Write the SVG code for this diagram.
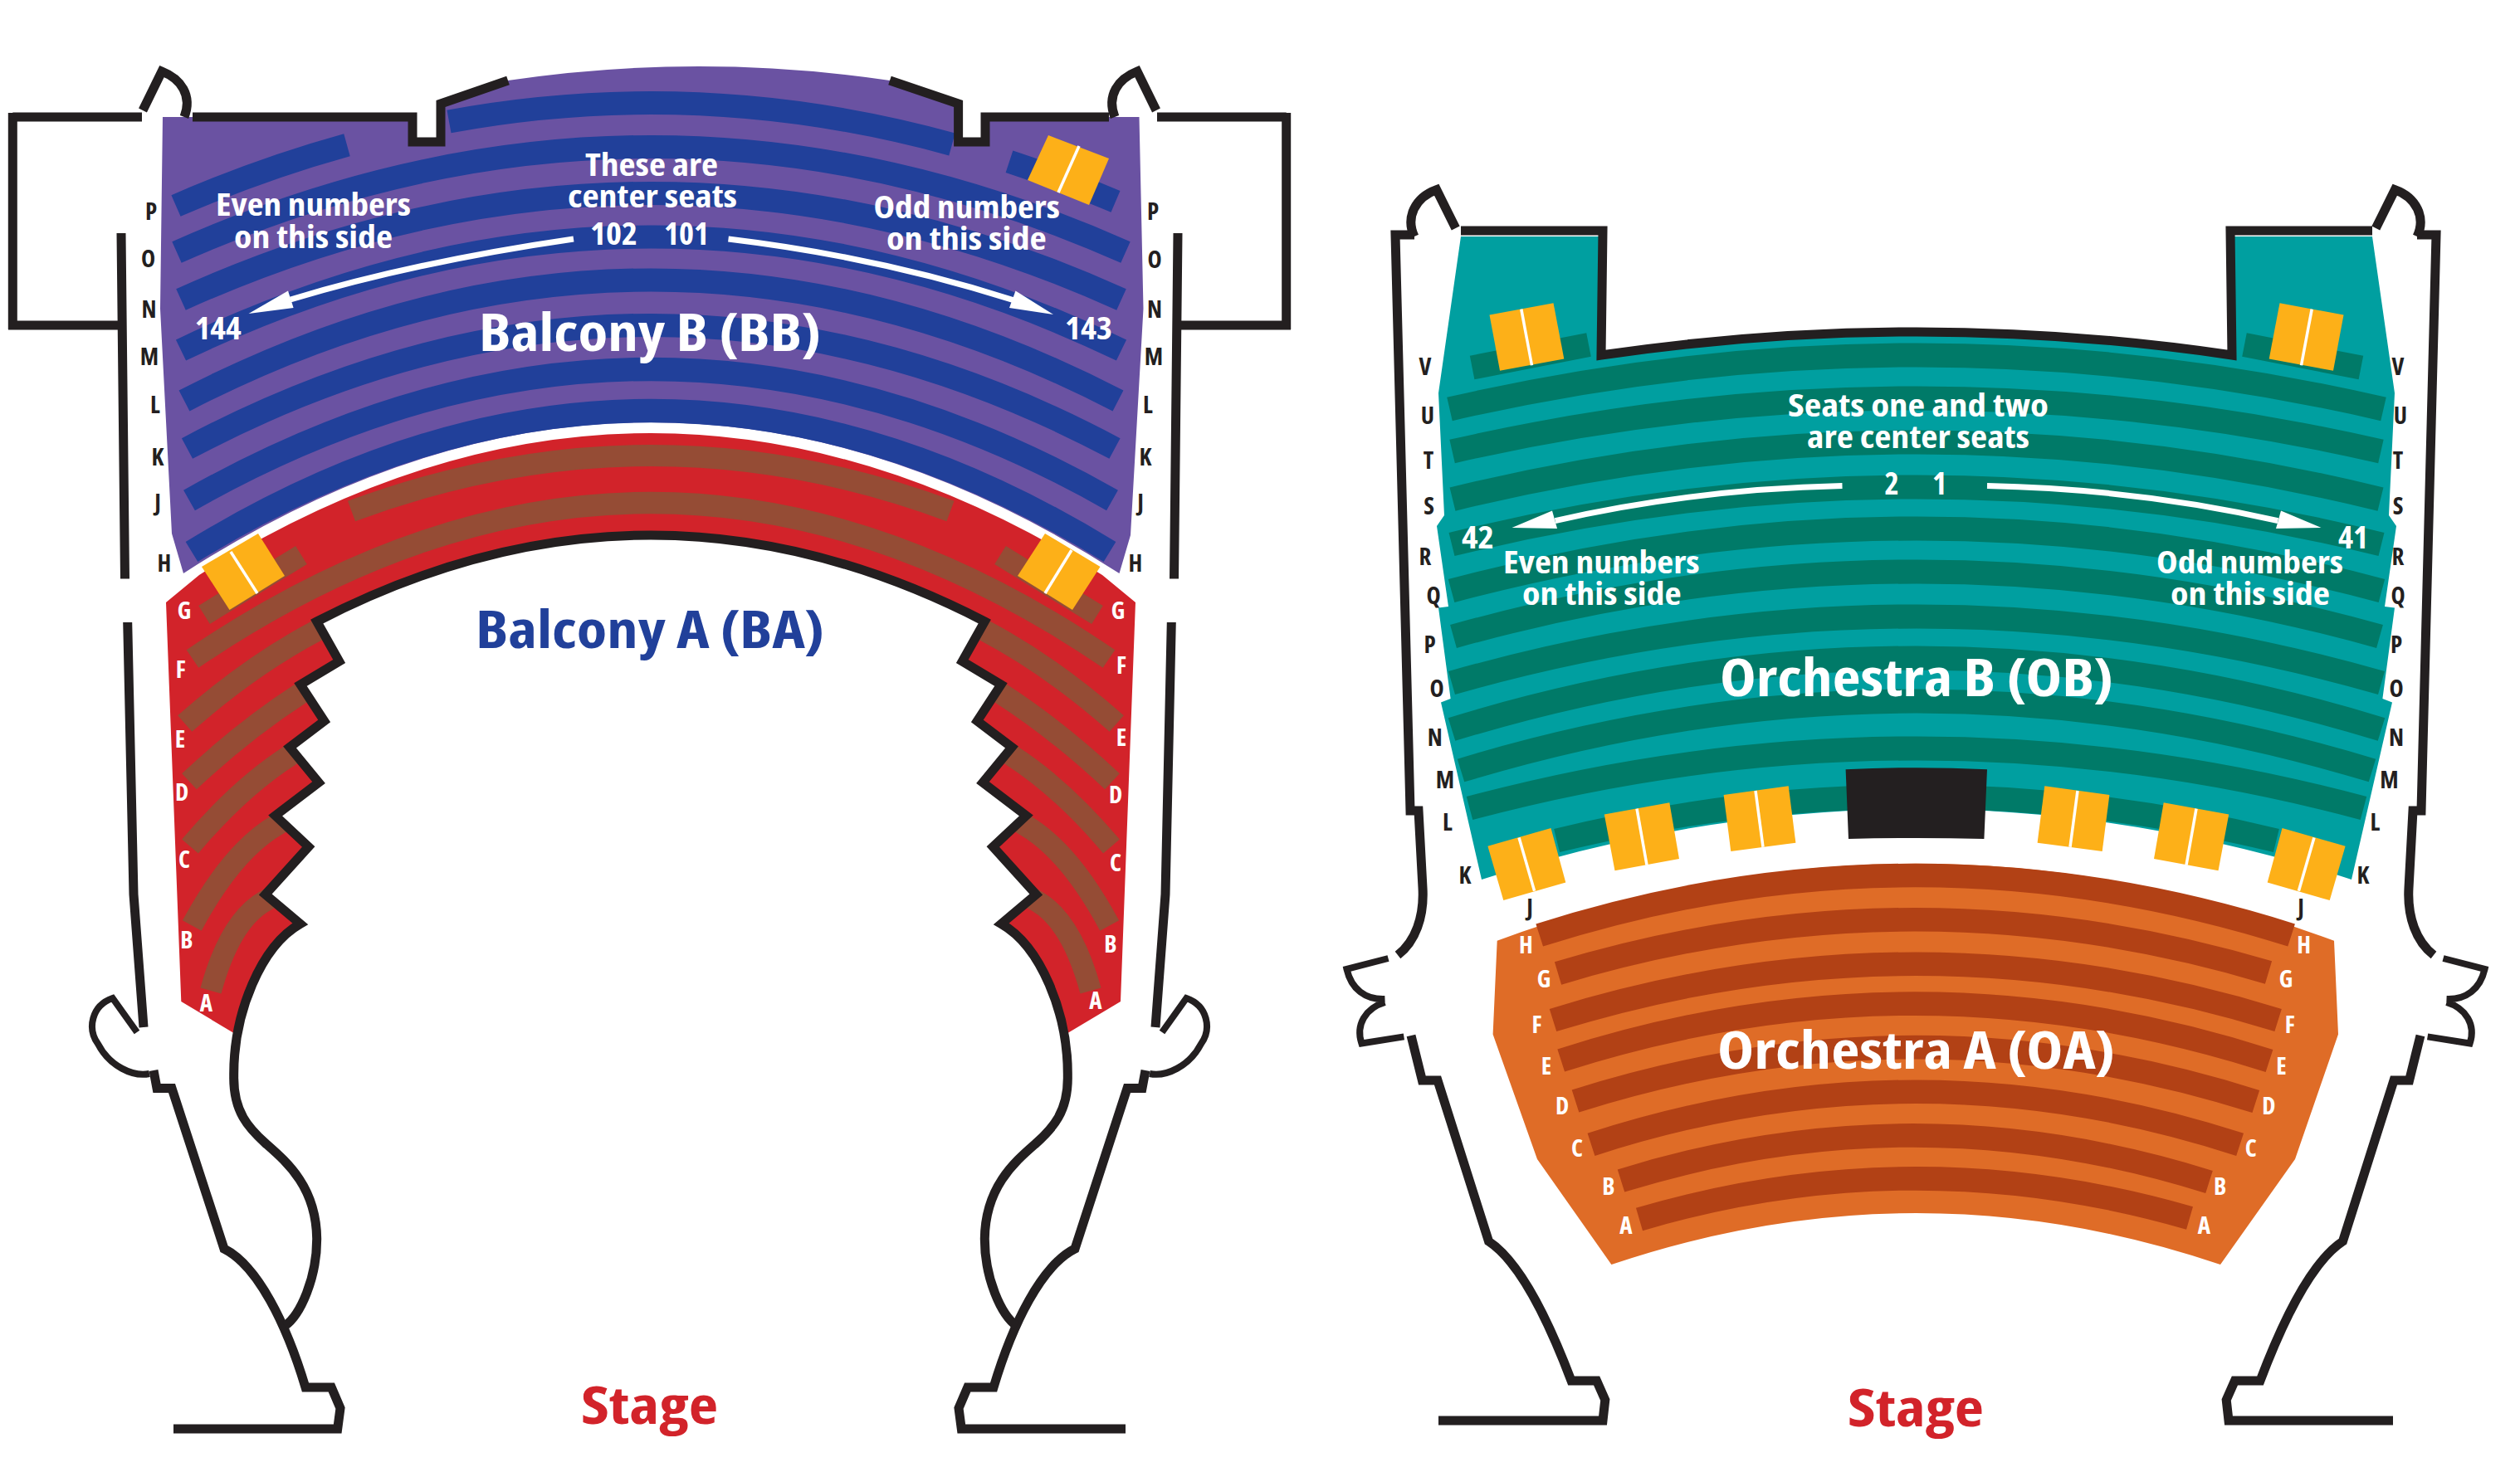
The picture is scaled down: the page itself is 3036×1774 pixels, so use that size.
<svg xmlns="http://www.w3.org/2000/svg" xmlns:xlink="http://www.w3.org/1999/xlink" width="3036" height="1774" viewBox="0 0 3036 1774">
<style>
text{font-family:"Open Sans","Noto Sans","Liberation Sans",sans-serif;font-weight:700;font-stretch:75%}
.w{fill:#fff}.k{fill:#231f20}
.s{font-size:37px;fill:#fff}
.big{font-size:63px;fill:#fff}
.l{font-size:29px;text-anchor:middle;fill:#231f20}
.lw{font-size:29px;text-anchor:middle;fill:#fff}
.wall{fill:none;stroke:#231f20;stroke-width:11;stroke-linejoin:miter}
.thin{fill:none;stroke:#231f20;stroke-width:8}
.rb{fill:none;stroke:#21409a;stroke-width:28}
.rt{fill:none;stroke:#007a68;stroke-width:29}
.ro{fill:none;stroke:#b24115;stroke-width:28.5}
.rr{fill:none;stroke:#954c35;stroke-width:26}
.box{fill:#fdb018}
.div{stroke:#fff;stroke-width:3.5;fill:none}
.arr{fill:none;stroke:#fff;stroke-width:7}
</style>
<defs>
<path id="redShape" d="M200 726L240 693Q784 351 1328 693L1368 726L1350 1207L1283 1247C1273 1190 1243 1138 1206.3 1113.4L1248.3 1078L1196.3 1020.5L1236.3 983L1184 943L1219 900.5L1177.3 869L1206 825L1159.3 797L1186.3 749Q784 541 381.7 749L408.7 797L362 825L390.7 869L349 900.5L384 943L331.7 983L371.7 1020.5L319.7 1078L361.7 1113.4C325 1138 295 1190 285 1247L218.3 1207Z"/>
<clipPath id="redClip"><use href="#redShape"/></clipPath>
<g id="balWall">
<path class="wall" d="M15.3 141H171M15.3 136V397M10 392H146M146 281L150.5 697.5"/>
<path class="wall" d="M172 133L195 86C218 95 232 115 222 141"/>
<path class="wall" d="M153.7 750L161 1078L173 1238"/>
<path class="thin" d="M165 1244L135.7 1203C110 1212 105 1240 118 1258C132 1285 160 1298 180 1294"/>
<path class="wall" d="M185 1290L189 1311.5L207 1311.5L270 1505C310 1525 345 1595 368 1672L399.3 1672L410 1697L406.7 1722L209 1722"/>
</g>
<path id="balInner" class="wall" d="M343 1598C362 1585 381.7 1540 381.7 1493C381 1430 345 1400 320 1378C300 1360 281 1340 281.7 1297C281 1220 315 1140 361.7 1113.4L319.7 1078L371.7 1020.5L331.7 983L384 943L349 900.5L390.7 869L362 825L408.7 797L381.7 749Q583 645 784 645"/>
<g id="orchWall">
<path class="wall" d="M1704 283H1681L1696.5 880L1699 977L1709 977L1714 1070C1716 1105 1705 1135 1684 1151"/>
<path class="wall" d="M1753.7 275L1730.7 228.7C1705 238 1693 262 1704 285"/>
<path class="thin" d="M1672.5 1155L1622.5 1168C1628 1192 1645 1205 1668.5 1204M1668.5 1208C1645 1215 1633 1235 1640.4 1257.4L1691.4 1249.4"/>
<path class="wall" d="M1700 1248L1713.4 1302L1732 1302L1793.5 1496C1830 1520 1865 1590 1893 1664L1923.6 1664L1933.8 1687L1931 1712L1733 1712"/>
</g>
</defs>

<g id="balcony-b">
<path fill="#6a52a2" d="M196 141H497V166H531V125L612 97Q842 63 1072 97L1154.6 125V166H1187V141H1372.5L1377.5 372L1362 645L1348.5 691Q784 327 221 691L207 643L193 372Z"/>
<path class="rb" d="M212 248Q315 203.3 418 174.8"/>
<path class="rb" d="M541 146.4Q844 90.6 1147 173.9"/>
<path class="rb" d="M1216 194.7Q1280 215.7 1344 242.9"/>
<path class="rb" d="M213 304Q784.5 50 1356 304"/>
<path class="rb" d="M218 361Q784.5 105 1351 361"/>
<path class="rb" d="M218 422Q784.5 149 1351 422"/>
<path class="rb" d="M222 483Q784.5 192 1347 483"/>
<path class="rb" d="M225.5 540.5Q784.5 243.5 1343 540.5"/>
<path class="rb" d="M228 603Q784.5 287 1340 603"/>
<path class="rb" d="M231 665Q784.5 325 1337 665"/>
<g id="bb-center-arrows">
<path class="arr" d="M691 288Q499 316 350 361"/><polygon class="w" points="299.5,378 347,350.5 353.6,371"/>
<path class="arr" d="M877.5 288Q1060 310 1222 362"/><polygon class="w" points="1269,379 1223.5,350.5 1216,371"/>
</g>
</g>

<g id="balcony-a">
<use href="#redShape" fill="#d2232a"/>
<g clip-path="url(#redClip)">
<path class="rr" d="M423.5 616Q784 482 1145 616"/>
<path class="rr" d="M232 794Q784 418 1336 794"/>
<path class="rr" d="M246 741L363 669"/><path class="rr" d="M1322 741L1205 669"/>
<path class="rr" d="M222.7 872Q302 802 381.7 760L405 747"/>
<path class="rr" d="M228 941.7Q295 879 361.7 836L388 819"/>
<path class="rr" d="M229 1020Q289 949 350 910L378 892"/>
<path class="rr" d="M231.3 1115.5Q280 1025 334 994L365 976"/>
<path class="rr" d="M254 1194Q277 1110 319 1086L350 1068"/>
<path class="rr" d="M1345.3 872Q1266 802 1186.3 760L1163 747"/>
<path class="rr" d="M1340 941.7Q1273 879 1206.3 836L1180 819"/>
<path class="rr" d="M1339 1020Q1279 949 1218 910L1190 892"/>
<path class="rr" d="M1336.7 1115.5Q1288 1025 1234 994L1203 976"/>
<path class="rr" d="M1314 1194Q1291 1110 1249 1086L1218 1068"/>
</g>
</g>

<g id="balcony-walls">
<use href="#balWall"/><use href="#balWall" transform="translate(1565) scale(-1 1)"/>
<use href="#balInner"/><use href="#balInner" transform="translate(1568) scale(-1 1)"/>
<path class="wall" d="M232 141H497V171H531V125L612 97"/>
<path class="wall" d="M1336 141H1187V171H1154.6V125L1072 97"/>
</g>

<g id="balcony-boxes">
<polygon class="box" points="311,643 343,694 276.5,735 243,683"/><path class="div" d="M278 665L310 715"/>
<polygon class="box" points="1259,643 1325.5,683 1292,735 1226,694"/><path class="div" d="M1291 663L1259 715"/>
<polygon class="box" points="1263,163 1336,191 1312,247 1238,217"/><path class="div" d="M1300 176L1275 232"/>
</g>

<g id="balcony-labels">
<text class="s" x="705" y="212" textLength="160" lengthAdjust="spacingAndGlyphs">These are</text>
<text class="s" x="684" y="250" textLength="204" lengthAdjust="spacingAndGlyphs">center seats</text>
<text class="s" x="711" y="295" textLength="57" lengthAdjust="spacingAndGlyphs">102</text>
<text class="s" x="800" y="295" textLength="54" lengthAdjust="spacingAndGlyphs">101</text>
<text class="s" x="260" y="260" textLength="235" lengthAdjust="spacingAndGlyphs">Even numbers</text>
<text class="s" x="282" y="298.5" textLength="191" lengthAdjust="spacingAndGlyphs">on this side</text>
<text class="s" x="1052.5" y="263" textLength="224.5" lengthAdjust="spacingAndGlyphs">Odd numbers</text>
<text class="s" x="1068" y="300.7" textLength="192.7" lengthAdjust="spacingAndGlyphs">on this side</text>
<text class="s" x="234.7" y="409" textLength="56" lengthAdjust="spacingAndGlyphs">144</text>
<text class="s" x="1283" y="409" textLength="57" lengthAdjust="spacingAndGlyphs">143</text>
<text class="big" x="577" y="423" textLength="412" lengthAdjust="spacingAndGlyphs">Balcony B (BB)</text>
<text class="big" x="573" y="781" textLength="420" lengthAdjust="spacingAndGlyphs" style="fill:#21409a">Balcony A (BA)</text>
<text class="big" x="700" y="1716" textLength="165" lengthAdjust="spacingAndGlyphs" style="fill:#d2232a">Stage</text>
<text class="l" x="182" y="265">P</text><text class="l" x="178.6" y="322">O</text><text class="l" x="179.6" y="383">N</text><text class="l" x="180" y="440">M</text><text class="l" x="187" y="498">L</text><text class="l" x="190" y="561">K</text><text class="l" x="190" y="616">J</text><text class="l" x="198" y="689">H</text>
<text class="l" x="1389" y="265">P</text><text class="l" x="1391" y="323">O</text><text class="l" x="1391" y="383">N</text><text class="l" x="1390" y="440">M</text><text class="l" x="1383" y="498">L</text><text class="l" x="1380" y="561">K</text><text class="l" x="1374" y="616">J</text><text class="l" x="1368" y="689">H</text>
<text class="lw" x="222" y="746">G</text><text class="lw" x="217.7" y="817">F</text><text class="lw" x="217" y="901">E</text><text class="lw" x="219" y="965">D</text><text class="lw" x="222" y="1045.7">C</text><text class="lw" x="225" y="1143">B</text><text class="lw" x="248.3" y="1219">A</text>
<text class="lw" x="1347" y="746">G</text><text class="lw" x="1351" y="811.5">F</text><text class="lw" x="1351" y="899">E</text><text class="lw" x="1344" y="968">D</text><text class="lw" x="1344" y="1050">C</text><text class="lw" x="1338" y="1148">B</text><text class="lw" x="1320" y="1216">A</text>
</g>

<g id="orchestra-b">
<path fill="#009fa0" d="M1760 285H1928L1926 432Q2309 372 2692 432L2690 285H2858L2885 473.7L2878 621L2887 634L2873 731L2885 732.6L2870.4 842L2882 846.6L2833 1060Q2309 890 1785 1060L1736 846.6L1747.6 842L1733 732.6L1745 731L1731 634L1740 621L1733 473.7Z"/>
<path class="rt" d="M1773.6 443L1914 415.6"/><path class="rt" d="M2844.4 443L2704 415.6"/>
<path class="rt" d="M1746.5 493Q2309 363 2871.5 493"/>
<path class="rt" d="M1749.6 544Q2309 416 2868.4 544"/>
<path class="rt" d="M1750 601.6Q2309 464.4 2868 601.6"/>
<path class="rt" d="M1749 656Q2309 518 2869 656"/>
<path class="rt" d="M1748.6 712Q2309 562 2869.4 712"/>
<path class="rt" d="M1751 767Q2309 611 2867 767"/>
<path class="rt" d="M1749 823Q2309 663 2869 823"/>
<path class="rt" d="M1749 879Q2309 707 2869 879"/>
<path class="rt" d="M1760 928.5Q2309 761.5 2858 928.5"/>
<path class="rt" d="M1770.5 974Q2309 830 2847.5 974"/>
<path class="rt" d="M1875.6 1013Q2309 907 2742.4 1013"/>
<g id="ob-center-arrows">
<path class="arr" d="M2219.5 585.6Q2040 589.6 1873.6 627.6"/><polygon class="w" points="1821.5,636 1870,615.5 1876,637"/>
<path class="arr" d="M2394 585.6Q2578 589.6 2744.4 627.6"/><polygon class="w" points="2796.5,636 2748,615.5 2742,637"/>
</g>
</g>

<g id="orchestra-a">
<path fill="#df6c27" d="M1803.7 1133.7Q2309 948 2812 1133.7L2817 1246.6L2765 1397L2675 1524Q2309 1400 1941.4 1524L1852 1397L1798.6 1246.6Z"/>
<path class="ro" d="M1854.7 1127Q2307 983 2760.6 1127"/>
<path class="ro" d="M1877 1173Q2305 1044 2733 1172"/>
<path class="ro" d="M1871 1229.5Q2308 1094 2744.6 1229.5"/>
<path class="ro" d="M1880.7 1278Q2307 1141 2734 1278.5"/>
<path class="ro" d="M1898 1327Q2308 1197 2717.8 1327.5"/>
<path class="ro" d="M1917 1379.4Q2308 1252 2698.6 1379.4"/>
<path class="ro" d="M1953 1423Q2307 1313 2661.5 1424.5"/>
<path class="ro" d="M1975 1469.5Q2306 1372 2638 1468"/>
</g>

<g id="orchestra-walls">
<use href="#orchWall"/><use href="#orchWall" transform="translate(4616) scale(-1 1)"/>
<path class="wall" d="M1760 278H1931L1929 428Q2309 372 2689 428L2687 278H2858"/>
</g>

<g id="orchestra-boxes">
<polygon class="box" points="1794.5,379.6 1871.5,365.3 1884.3,432.5 1807,446.8"/><path class="div" d="M1832.8 372.6L1845.5 440.3"/>
<polygon class="box" points="2823.5,379.6 2746.5,365.3 2733.7,432.5 2811,446.8"/><path class="div" d="M2785.2 372.6L2772.5 440.3"/>
<polygon class="box" points="1792.4,1019.7 1868.5,998 1886.3,1063.6 1811.3,1085"/><path class="div" d="M1830 1009.4L1848.6 1073.8"/>
<polygon class="box" points="1932.8,981.5 2011.3,967.2 2023,1035 1945.5,1049.3"/><path class="div" d="M1972 974.6L1984 1042.5"/>
<polygon class="box" points="2076.6,958 2154.7,947.3 2163.4,1015.7 2085.3,1026"/><path class="div" d="M2115 953L2124 1020.8"/>
<polygon class="box" points="2825.6,1019.7 2749.5,998 2731.7,1063.6 2806.7,1085"/><path class="div" d="M2788 1009.4L2769.4 1073.8"/>
<polygon class="box" points="2685.2,981.5 2606.7,967.2 2595,1035 2672.5,1049.3"/><path class="div" d="M2646 974.6L2634 1042.5"/>
<polygon class="box" points="2541.4,958 2463.3,947.3 2454.6,1015.7 2532.7,1026"/><path class="div" d="M2503 953L2494 1020.8"/>
<path id="orchestra-pit" class="k" d="M2223.6 927.3Q2309 923 2394 927.3L2390.4 1011Q2309 1009 2227 1011Z"/>
</g>

<g id="orchestra-labels">
<text class="s" x="2154" y="502" textLength="314" lengthAdjust="spacingAndGlyphs">Seats one and two</text>
<text class="s" x="2177" y="540" textLength="268" lengthAdjust="spacingAndGlyphs">are center seats</text>
<text class="s" x="2270.5" y="596.4">2</text><text class="s" x="2328" y="596.4">1</text>
<text class="s" x="1761" y="661" textLength="39" lengthAdjust="spacingAndGlyphs">42</text>
<text class="s" x="2817" y="661" textLength="36" lengthAdjust="spacingAndGlyphs">41</text>
<text class="s" x="1811" y="691" textLength="236.6" lengthAdjust="spacingAndGlyphs">Even numbers</text>
<text class="s" x="1834" y="729" textLength="191.6" lengthAdjust="spacingAndGlyphs">on this side</text>
<text class="s" x="2598" y="691" textLength="225" lengthAdjust="spacingAndGlyphs">Odd numbers</text>
<text class="s" x="2615" y="729" textLength="192" lengthAdjust="spacingAndGlyphs">on this side</text>
<text class="big" x="2072" y="839" textLength="474" lengthAdjust="spacingAndGlyphs">Orchestra B (OB)</text>
<text class="big" x="2069" y="1287.6" textLength="479" lengthAdjust="spacingAndGlyphs">Orchestra A (OA)</text>
<text class="big" x="2226" y="1719" textLength="164" lengthAdjust="spacingAndGlyphs" style="fill:#d2232a">Stage</text>
<text class="l" x="1717" y="452">V</text><text class="l" x="1720" y="510.5">U</text><text class="l" x="1721" y="565">T</text><text class="l" x="1721.5" y="620">S</text><text class="l" x="1717" y="680.5">R</text><text class="l" x="1727" y="728">Q</text><text class="l" x="1722.6" y="787">P</text><text class="l" x="1731" y="840">O</text><text class="l" x="1728.7" y="899">N</text><text class="l" x="1741" y="949.6">M</text><text class="l" x="1744" y="1001">L</text><text class="l" x="1765" y="1065">K</text><text class="l" x="1843" y="1103.5">J</text>
<text class="l" x="2889" y="452">V</text><text class="l" x="2892" y="510.5">U</text><text class="l" x="2889" y="565">T</text><text class="l" x="2889" y="620">S</text><text class="l" x="2889" y="680.5">R</text><text class="l" x="2889" y="728">Q</text><text class="l" x="2887" y="787">P</text><text class="l" x="2887" y="840">O</text><text class="l" x="2887" y="899">N</text><text class="l" x="2878.4" y="949.6">M</text><text class="l" x="2861.5" y="1001">L</text><text class="l" x="2847" y="1065">K</text><text class="l" x="2772" y="1103.5">J</text>
<text class="lw" x="1838.4" y="1149">H</text><text class="lw" x="1860" y="1189.6">G</text><text class="lw" x="1851.6" y="1245">F</text><text class="lw" x="1863" y="1294.5">E</text><text class="lw" x="1882" y="1343">D</text><text class="lw" x="1900" y="1394">C</text><text class="lw" x="1938" y="1440.4">B</text><text class="lw" x="1959" y="1487">A</text>
<text class="lw" x="2775.6" y="1149">H</text><text class="lw" x="2754" y="1189.6">G</text><text class="lw" x="2758.7" y="1245">F</text><text class="lw" x="2748.4" y="1294.5">E</text><text class="lw" x="2733.3" y="1343">D</text><text class="lw" x="2711.7" y="1394">C</text><text class="lw" x="2674.7" y="1440.4">B</text><text class="lw" x="2655.4" y="1487">A</text>
</g>
</svg>
